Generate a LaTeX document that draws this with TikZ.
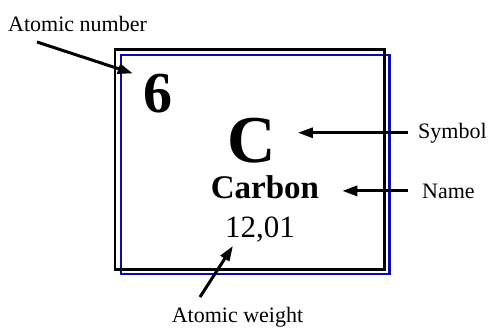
\documentclass[tikz,border=0pt]{standalone}
\usepackage{fontspec}
\setmainfont{Liberation Serif}
\usetikzlibrary{arrows.meta}
\definecolor{boxblue}{RGB}{10,10,175}

\begin{document}
\begin{tikzpicture}[x=1pt, y=-1pt,
    every node/.style={inner sep=0pt},
    lbl/.style={font=\fontsize{22}{22}\selectfont},
    ptr/.style={-{Triangle[length=15pt,width=10pt]}, line width=3pt}
]
\useasboundingbox (0,0) rectangle (495,327);

\draw[boxblue, line width=2.3pt] (121,55) rectangle (389.5,274);
\draw[line width=2.6pt] (115,49.5) rectangle (384.5,269.5);

\node[font=\bfseries\fontsize{58}{58}\selectfont, anchor=base] (num) at (157.5,112) {6};
\node[font=\bfseries\fontsize{67}{67}\selectfont, anchor=base] (sym) at (251.5,162) {C};
\node[font=\bfseries\fontsize{33}{33}\selectfont, anchor=base] (name) at (265,198) {Carbon};
\node[font=\fontsize{31}{31}\selectfont, anchor=base] (wt) at (260,237) {12,01};

\node[lbl, anchor=base west] (numlbl) at (8,31) {Atomic number};
\node[lbl, anchor=base west] (symlbl) at (418,138) {Symbol};
\node[lbl, anchor=base west] (namelbl) at (422,198) {Name};
\node[lbl, anchor=base] (wtlbl) at (237.5,322) {Atomic weight};

\coordinate (numtail) at (37,42);
\coordinate (wttail) at (200,297);

\draw[ptr] (numtail) -- ([xshift=-10pt]num.north west);
\draw[ptr, shorten <=10pt, shorten >=22pt] (symlbl.west) -- (symlbl.west -| sym.east);
\draw[ptr, shorten <=14pt, shorten >=23pt] (namelbl.west) -- (namelbl.west -| name.east);
\draw[ptr] (wttail) -- ([xshift=8pt, yshift=-4pt]wt.south west);

\end{tikzpicture}
\end{document}
